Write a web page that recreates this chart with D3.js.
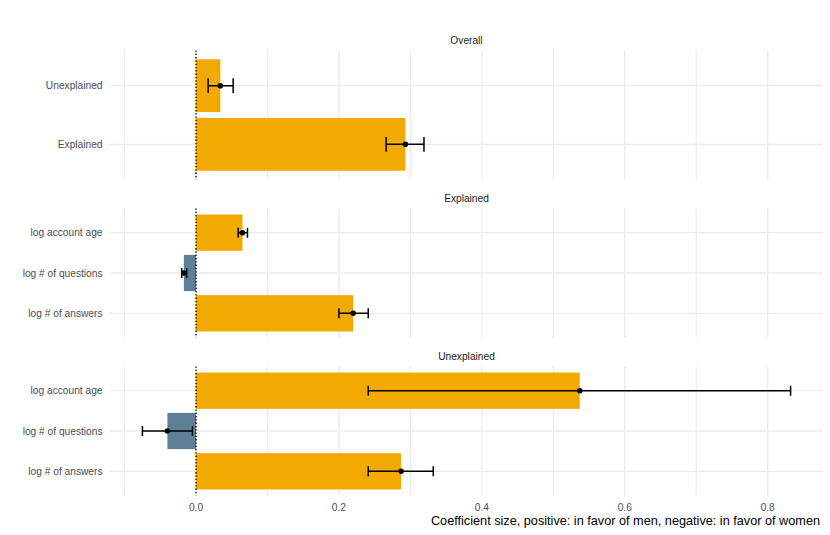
<!DOCTYPE html>
<html>
<head>
<meta charset="utf-8">
<script src="https://cdn.jsdelivr.net/npm/d3@7"></script>
<style>
  body { margin: 0; background: #fff; }
  text { font-family: "Liberation Sans", Arial, sans-serif; }
</style>
</head>
<body>
<svg id="chart" width="830" height="535"></svg>
<script>
// panels, top to bottom
var facets = ["Overall", "Explained", "Unexplained"];

// terms listed top to bottom inside each panel
var overallTerms = ["Unexplained", "Explained"];
var overallEst = [0.034, 0.293];
var overallLo = [0.017, 0.266];
var overallHi = [0.052, 0.319];

var explainedTerms = ["log account age", "log # of questions", "log # of answers"];
var explainedEst = [0.065, -0.017, 0.220];
var explainedLo = [0.059, -0.020, 0.200];
var explainedHi = [0.072, -0.013, 0.241];

var unexplainedTerms = ["log account age", "log # of questions", "log # of answers"];
var unexplainedEst = [0.537, -0.040, 0.287];
var unexplainedLo = [0.241, -0.075, 0.241];
var unexplainedHi = [0.832, -0.005, 0.332];

var xTicks = [0, 0.2, 0.4, 0.6, 0.8];
var xMinor = [-0.1, 0.1, 0.3, 0.5, 0.7];
var xTitle = "Coefficient size, positive: in favor of men, negative: in favor of women";

var colPos = "#F2A900", colNeg = "#5F8094";

var svg = d3.select("svg#chart");

var panels = [
  {name: facets[0], terms: overallTerms, est: overallEst, lo: overallLo, hi: overallHi},
  {name: facets[1], terms: explainedTerms, est: explainedEst, lo: explainedLo, hi: explainedHi},
  {name: facets[2], terms: unexplainedTerms, est: unexplainedEst, lo: unexplainedLo, hi: unexplainedHi}
];

// shared x scale, ggplot style 5% expansion
var allVals = [];
panels.forEach(function(p) { allVals = allVals.concat(p.est, p.lo, p.hi, [0]); });
var xmin = d3.min(allVals), xmax = d3.max(allVals), pad = (xmax - xmin) * 0.05;
var x = d3.scaleLinear().domain([xmin - pad, xmax + pad]).range([110, 823]);

var panelTop = [50.5, 208.5, 366.5], panelH = 129;

panels.forEach(function(p, pi) {
  var top = panelTop[pi];
  var y = d3.scalePoint().domain(p.terms).range([top, top + panelH]).padding(0.6);
  var step = y.step();
  var g = svg.append("g");

  // grid
  g.selectAll("line.minor").data(xMinor).enter().append("line")
    .attr("x1", function(d) { return x(d); }).attr("x2", function(d) { return x(d); })
    .attr("y1", top).attr("y2", top + panelH)
    .attr("stroke", "#EBEBEB").attr("stroke-width", 1.1);
  g.selectAll("line.major").data(xTicks).enter().append("line")
    .attr("x1", function(d) { return x(d); }).attr("x2", function(d) { return x(d); })
    .attr("y1", top).attr("y2", top + panelH)
    .attr("stroke", "#EBEBEB").attr("stroke-width", 1.3);
  g.selectAll("line.hgrid").data(p.terms).enter().append("line")
    .attr("x1", x.range()[0]).attr("x2", x.range()[1])
    .attr("y1", function(d) { return y(d); }).attr("y2", function(d) { return y(d); })
    .attr("stroke", "#EBEBEB").attr("stroke-width", 1.3);

  // strip label
  svg.append("text")
    .attr("x", (x.range()[0] + x.range()[1]) / 2).attr("y", top - 6.5)
    .attr("text-anchor", "middle").attr("font-size", 10.2).attr("fill", "#1A1A1A")
    .text(p.name);

  // y labels
  g.selectAll("text.ylab").data(p.terms).enter().append("text")
    .attr("x", 102.5).attr("y", function(d) { return y(d); })
    .attr("dy", "0.35em").attr("text-anchor", "end")
    .attr("font-size", 10.2).attr("fill", "#4D4D4D")
    .text(function(d) { return d; });

  // bars
  g.selectAll("rect").data(p.terms).enter().append("rect")
    .attr("x", function(d, i) { return Math.min(x(0), x(p.est[i])); })
    .attr("width", function(d, i) { return Math.abs(x(p.est[i]) - x(0)); })
    .attr("y", function(d) { return y(d) - step * 0.45; })
    .attr("height", step * 0.9)
    .attr("fill", function(d, i) { return p.est[i] >= 0 ? colPos : colNeg; });

  // zero line
  g.append("line")
    .attr("x1", x(0)).attr("x2", x(0)).attr("y1", top).attr("y2", top + panelH)
    .attr("stroke", "#000").attr("stroke-width", 1.4).attr("stroke-dasharray", "1.3,2");

  // error bars
  var w = step * 0.125;
  p.terms.forEach(function(t, i) {
    var cy = y(t);
    g.append("path")
      .attr("d", "M" + x(p.lo[i]) + "," + (cy - w) + "V" + (cy + w) +
                 "M" + x(p.lo[i]) + "," + cy + "H" + x(p.hi[i]) +
                 "M" + x(p.hi[i]) + "," + (cy - w) + "V" + (cy + w))
      .attr("fill", "none").attr("stroke", "#000").attr("stroke-width", 1.5);
    g.append("circle").attr("cx", x(p.est[i])).attr("cy", cy).attr("r", 2.8).attr("fill", "#000");
  });
});

// x tick labels under the bottom panel
var bottom = panelTop[2] + panelH;
svg.selectAll("text.xtick").data(xTicks).enter().append("text")
  .attr("x", function(d) { return x(d); }).attr("y", bottom + 15)
  .attr("text-anchor", "middle").attr("font-size", 10.2).attr("fill", "#4D4D4D")
  .text(function(d) { return d3.format(".1f")(d); });

svg.append("text")
  .attr("x", 820).attr("y", 524.5).attr("text-anchor", "end")
  .attr("font-size", 12.7).attr("fill", "#000")
  .text(xTitle);
</script>
</body>
</html>
